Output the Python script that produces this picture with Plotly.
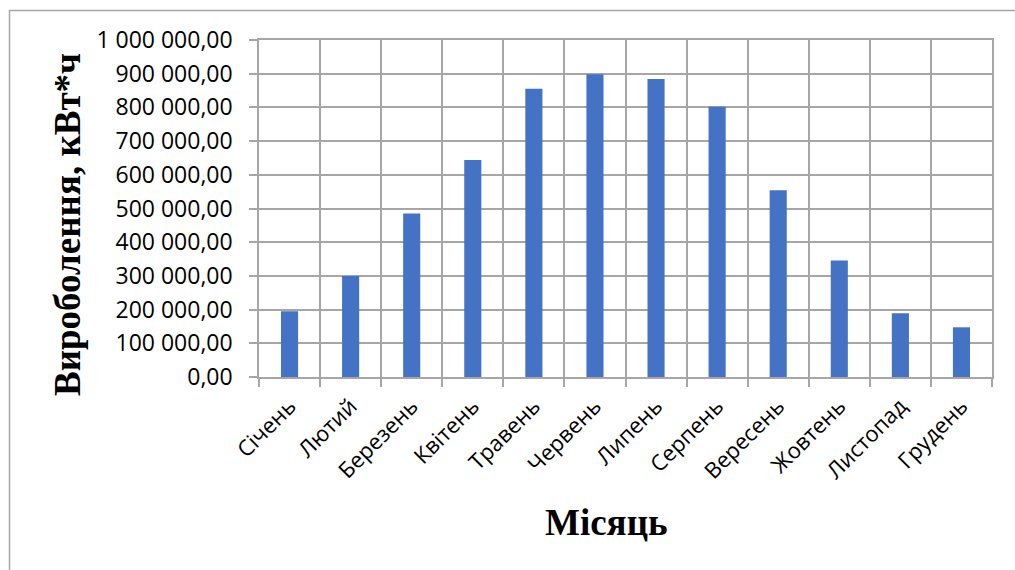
import plotly.graph_objects as go

months = ["Січень", "Лютий", "Березень", "Квітень", "Травень", "Червень",
          "Липень", "Серпень", "Вересень", "Жовтень", "Листопад", "Грудень"]
production = [195000, 300000, 485000, 644000, 855000, 898000,
              884000, 802000, 554000, 345500, 189000, 147500]
ytick_vals = [0, 100000, 200000, 300000, 400000, 500000, 600000, 700000, 800000, 900000, 1000000]
ytick_text = ["0,00", "100 000,00", "200 000,00", "300 000,00", "400 000,00", "500 000,00",
              "600 000,00", "700 000,00", "800 000,00", "900 000,00", "1 000 000,00"]
x_title = "Місяць"
y_title = "Вироболення, кВт*ч"

grid = "#a6a6a6"
L, R, T, B = 259, 992, 40, 377
PW, PH = R - L, B - T


def px_x(p):
    return (p - L) / PW


def px_y(p):
    return (B - p) / PH


fig = go.Figure(go.Bar(x=months, y=production, marker=dict(color="#4472C4", line=dict(width=0))))

fig.update_layout(
    width=1015, height=570,
    margin=dict(l=L, r=1015 - R, t=T, b=570 - B),
    paper_bgcolor="white", plot_bgcolor="white",
    bargap=0.72,
    showlegend=False,
    font=dict(family="Open Sans", color="black"),
    shapes=[dict(type="rect", xref="paper", yref="paper",
                 x0=px_x(9.5), x1=px_x(1030),
                 y0=px_y(600), y1=px_y(10.5),
                 line=dict(color="#a6a6a6", width=1.5), fillcolor="rgba(0,0,0,0)",
                 layer="below")],
    annotations=[
        dict(text="<b>" + x_title + "</b>", xref="paper", yref="paper",
             x=px_x(606), y=px_y(522), xanchor="center", yanchor="middle",
             showarrow=False, font=dict(family="Liberation Serif", size=37, color="black")),
        dict(text="<b>" + y_title + "</b>", xref="paper", yref="paper",
             x=px_x(67), y=px_y(225), xanchor="center", yanchor="middle", textangle=-90,
             showarrow=False, font=dict(family="Liberation Serif", size=37, color="black")),
    ],
)

fig.update_xaxes(
    type="category", tickson="boundaries",
    showgrid=True, gridcolor=grid, gridwidth=1.5,
    showline=True, linecolor=grid, linewidth=1.5, mirror=True,
    ticks="outside", ticklen=8, tickcolor=grid, tickwidth=1.5,
    tickangle=-45, tickfont=dict(family="Open Sans", size=22, color="black"),
    ticklabelstandoff=6,
)
fig.update_yaxes(
    range=[0, 1000000], tickvals=ytick_vals, ticktext=ytick_text,
    showgrid=True, gridcolor=grid, gridwidth=1.5,
    showline=True, linecolor=grid, linewidth=1.5, mirror=True,
    ticks="outside", ticklen=8, tickcolor=grid, tickwidth=1.5,
    tickfont=dict(family="Open Sans", size=23, color="black"),
    ticklabelstandoff=12,
    zeroline=False,
)

fig.write_html("out.html")
